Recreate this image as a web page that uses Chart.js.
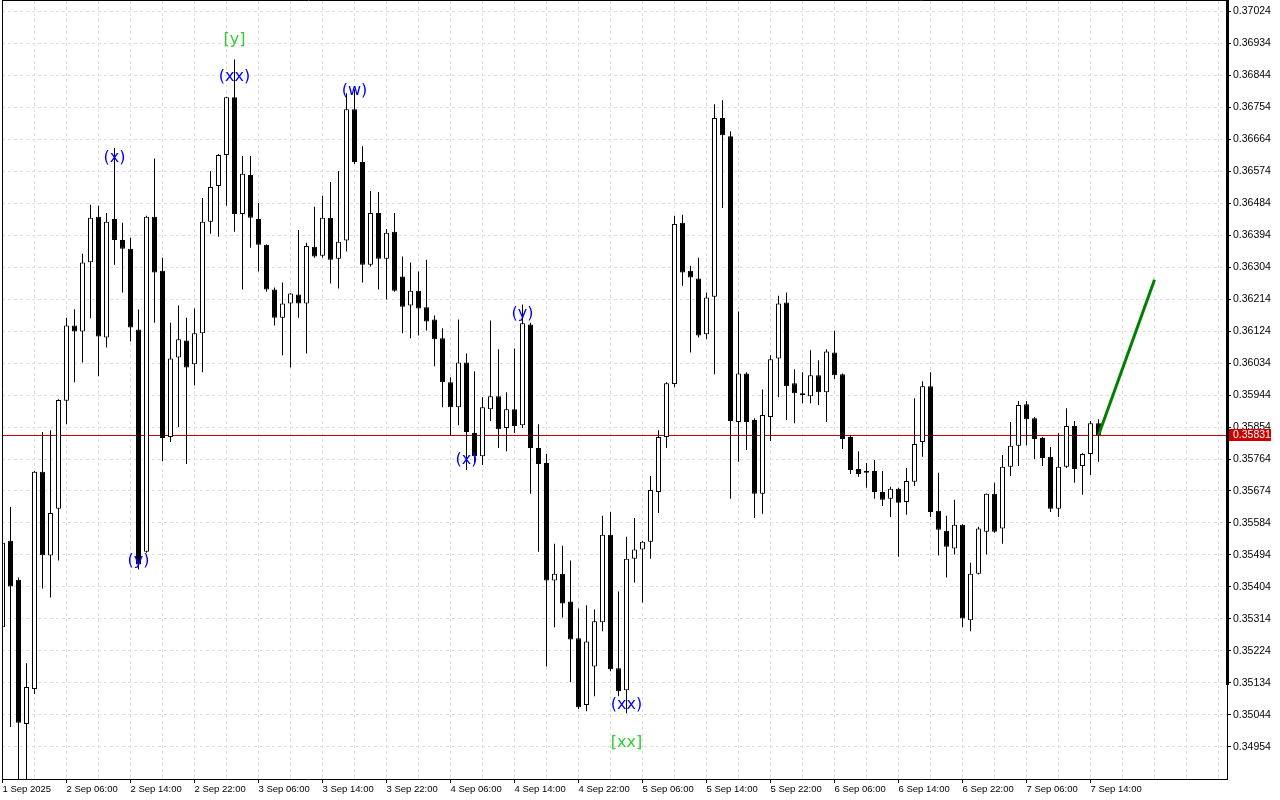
<!DOCTYPE html>
<html>
<head>
<meta charset="utf-8">
<style>
html,body{margin:0;padding:0;background:#fff;}
#wrap{width:1280px;height:800px;position:relative;}
canvas{display:block;}
</style>
<script src="https://cdn.jsdelivr.net/npm/chart.js@4.4.1/dist/chart.umd.min.js"></script>
</head>
<body>
<div id="wrap"><canvas id="c" width="1280" height="800"></canvas></div>
<script>
// Hourly bars, first bar = 1 Sep 2025 22:00
const opens = [
0.35290,0.35534,0.35424,0.35018,0.35116,0.35728,0.35492,0.35624,0.35928,0.36140,
0.36123,0.36318,0.36446,0.36106,0.36440,0.36381,0.36356,0.36129,0.35503,0.36446,
0.36294,0.35826,0.36050,0.36098,0.36031,0.36118,0.36432,0.36533,0.36620,0.36783,
0.36454,0.36564,0.36440,0.36367,0.36241,0.36162,0.36202,0.36227,0.36202,0.36362,
0.36336,0.36443,0.36328,0.36379,0.36749,0.36600,0.36311,0.36457,0.36328,0.36404,
0.36278,0.36196,0.36238,0.36191,0.36157,0.36104,0.35980,0.35910,0.36036,0.35837,
0.35772,0.35904,0.35941,0.35851,0.35904,0.35859,0.36143,0.35795,0.35753,0.35422,
0.35441,0.35363,0.35259,0.35071,0.35180,0.35304,0.35551,0.35175,0.35113,0.35483,
0.35509,0.35531,0.35671,0.35826,0.35975,0.36429,0.36294,0.36272,0.36115,0.36221,
0.36724,0.36673,0.35868,0.36005,0.35874,0.35666,0.35882,0.36047,0.36205,0.35977,
0.35949,0.35941,0.36000,0.35952,0.36064,0.36003,0.35826,0.35736,0.35725,0.35730,
0.35671,0.35652,0.35680,0.35643,0.35700,0.35812,0.35969,0.35618,0.35562,0.35512,
0.35579,0.35310,0.35441,0.35559,0.35666,0.35568,0.35742,0.35801,0.35918,0.35879,
0.35823,0.35770,0.35624,0.35742,0.35857,0.35744,0.35778,0.35865];
const highs = [
0.35551,0.35629,0.35430,0.35189,0.35730,0.35840,0.35845,0.35932,0.36162,0.36186,
0.36342,0.36480,0.36477,0.36457,0.36640,0.36429,0.36387,0.36185,0.36449,0.36610,
0.36331,0.36148,0.36196,0.36162,0.36188,0.36499,0.36575,0.36623,0.36784,0.36889,
0.36617,0.36617,0.36485,0.36368,0.36247,0.36261,0.36231,0.36409,0.36373,0.36474,
0.36505,0.36544,0.36575,0.36794,0.36805,0.36645,0.36519,0.36516,0.36412,0.36457,
0.36334,0.36317,0.36292,0.36325,0.36168,0.36132,0.35994,0.36157,0.36061,0.36011,
0.35938,0.36154,0.36073,0.35952,0.36075,0.36199,0.36148,0.35862,0.35778,0.35525,
0.35520,0.35478,0.35343,0.35352,0.35340,0.35604,0.35615,0.35391,0.35545,0.35598,
0.35534,0.35716,0.35845,0.35980,0.36449,0.36452,0.36308,0.36331,0.36233,0.36763,
0.36774,0.36687,0.36179,0.36008,0.35879,0.35960,0.36056,0.36224,0.36233,0.36017,
0.36008,0.36070,0.36042,0.36073,0.36126,0.36005,0.35831,0.35786,0.35753,0.35761,
0.35730,0.35686,0.35683,0.35739,0.35935,0.35983,0.36008,0.35725,0.35604,0.35649,
0.35580,0.35472,0.35573,0.35667,0.35697,0.35775,0.35868,0.35927,0.35927,0.35882,
0.35826,0.35798,0.35837,0.35907,0.35871,0.35781,0.35871,0.35876];
const lows = [
0.35279,0.35009,0.34835,0.34849,0.35102,0.35399,0.35374,0.35478,0.35862,0.35980,
0.36036,0.36160,0.35997,0.36078,0.36311,0.36233,0.36095,0.35453,0.35500,0.36148,
0.35758,0.35812,0.35854,0.35750,0.35972,0.36008,0.36398,0.36390,0.36477,0.36404,
0.36241,0.36359,0.36292,0.36235,0.36140,0.36056,0.36022,0.36162,0.36061,0.36331,
0.36331,0.36258,0.36244,0.36348,0.36595,0.36261,0.36306,0.36241,0.36213,0.36235,
0.36118,0.36104,0.36112,0.36126,0.36025,0.35910,0.35831,0.35859,0.35733,0.35753,
0.35747,0.35871,0.35795,0.35786,0.35837,0.35851,0.35666,0.35503,0.35180,0.35290,
0.35318,0.35135,0.35060,0.35054,0.35096,0.35279,0.35166,0.35096,0.35048,0.35416,
0.35360,0.35483,0.35612,0.35795,0.35966,0.36252,0.36064,0.36106,0.36101,0.36003,
0.36471,0.35652,0.35756,0.35789,0.35598,0.35610,0.35815,0.35938,0.35874,0.35865,
0.35921,0.35921,0.35916,0.35868,0.35989,0.35792,0.35722,0.35714,0.35683,0.35652,
0.35632,0.35601,0.35489,0.35607,0.35688,0.35770,0.35601,0.35492,0.35430,0.35495,
0.35290,0.35279,0.35439,0.35495,0.35556,0.35525,0.35716,0.35744,0.35803,0.35764,
0.35744,0.35615,0.35601,0.35739,0.35697,0.35663,0.35719,0.35756];
const closes = [
0.35528,0.35405,0.35021,0.35122,0.35728,0.35493,0.35612,0.35930,0.36140,0.36123,
0.36317,0.36443,0.36109,0.36432,0.36381,0.36356,0.36134,0.35467,0.36446,0.36289,
0.35823,0.36047,0.36101,0.36022,0.36118,0.36432,0.36530,0.36620,0.36783,0.36454,
0.36567,0.36443,0.36367,0.36241,0.36162,0.36202,0.36230,0.36202,0.36364,0.36334,
0.36443,0.36325,0.36376,0.36749,0.36600,0.36311,0.36457,0.36328,0.36401,0.36238,
0.36193,0.36238,0.36188,0.36151,0.36101,0.35980,0.35910,0.36036,0.35840,0.35772,
0.35910,0.35941,0.35848,0.35904,0.35857,0.36146,0.35795,0.35750,0.35422,0.35441,
0.35357,0.35256,0.35065,0.35250,0.35307,0.35551,0.35172,0.35110,0.35483,0.35509,
0.35531,0.35677,0.35826,0.35977,0.36426,0.36289,0.36275,0.36112,0.36219,0.36724,
0.36676,0.35871,0.36005,0.35868,0.35666,0.35888,0.36045,0.36202,0.35969,0.35949,
0.35944,0.36000,0.35952,0.36067,0.36000,0.35820,0.35733,0.35722,0.35730,0.35671,
0.35649,0.35680,0.35641,0.35702,0.35806,0.35969,0.35615,0.35565,0.35517,0.35579,
0.35315,0.35441,0.35568,0.35666,0.35559,0.35742,0.35801,0.35916,0.35876,0.35820,
0.35767,0.35624,0.35742,0.35857,0.35736,0.35778,0.35865,0.35831];

const xTickLabels = ["1 Sep 2025","2 Sep 06:00","2 Sep 14:00","2 Sep 22:00","3 Sep 06:00","3 Sep 14:00",
  "3 Sep 22:00","4 Sep 06:00","4 Sep 14:00","4 Sep 22:00","5 Sep 06:00","5 Sep 14:00",
  "5 Sep 22:00","6 Sep 06:00","6 Sep 14:00","6 Sep 22:00","7 Sep 06:00","7 Sep 14:00"];
const barsPerLabel = 8;
const barsPerGrid = 4;
const yTicks = [0.37024,0.36934,0.36844,0.36754,0.36664,0.36574,0.36484,0.36394,0.36304,0.36214,
  0.36124,0.36034,0.35944,0.35854,0.35764,0.35674,0.35584,0.35494,0.35404,0.35314,
  0.35224,0.35134,0.35044,0.34954];
const yMin = 0.348629, yMax = 0.370537;
const xMin = -0.0625, xMax = 153.0625;
const currentPrice = 0.35831;
const projectionIdx = [137, 144];
const projectionPrice = [0.35831, 0.36269];
const waveIdx   = [14, 17, 29, 29, 44, 58, 65, 78, 78];
const wavePrice = [0.36611, 0.35476, 0.36839, 0.36945, 0.36800, 0.35761, 0.36174, 0.35072, 0.34964];
const waveText  = ["(x)", "(y)", "(xx)", "[y]", "(w)", "(x)", "(y)", "(xx)", "[xx]"];
const waveDegree = ["minor","minor","minor","major","minor","minor","minor","minor","major"];

const BLUE = '#0000ff', LIME = '#32cd32';

const bodies = closes.map((c, i) => ({x: i, y: [opens[i], c]}));
const wicks = closes.map((c, i) => ({x: i, y: [lows[i], highs[i]]}));

const overlay = {
  id: 'overlay',
  beforeDatasetsDraw(chart) {
    const {ctx, chartArea: a, scales: {y}} = chart;
    const py = Math.round(y.getPixelForValue(currentPrice)) + 0.5;
    ctx.save();
    ctx.strokeStyle = '#c80000'; ctx.lineWidth = 1;
    ctx.beginPath(); ctx.moveTo(a.left, py); ctx.lineTo(a.right, py); ctx.stroke();
    ctx.restore();
  },
  afterDatasetsDraw(chart) {
    const {ctx, scales: {x, y}} = chart;
    ctx.save();
    ctx.font = '16px "DejaVu Sans"';
    ctx.textAlign = 'center'; ctx.textBaseline = 'middle';
    waveText.forEach((t, k) => {
      ctx.fillStyle = waveDegree[k] === 'major' ? LIME : BLUE;
      ctx.fillText(t, x.getPixelForValue(waveIdx[k]), y.getPixelForValue(wavePrice[k]));
    });
    ctx.restore();
  },
  afterDraw(chart) {
    const {ctx, chartArea: a, scales: {y}} = chart;
    ctx.save();
    ctx.strokeStyle = '#000'; ctx.lineWidth = 1;
    ctx.beginPath();
    ctx.moveTo(a.left + 0.5, 0); ctx.lineTo(a.left + 0.5, a.bottom + 0.5);
    ctx.moveTo(a.left, 0.5); ctx.lineTo(a.right + 1, 0.5);
    ctx.moveTo(a.left, a.bottom + 0.5); ctx.lineTo(a.right + 1, a.bottom + 0.5);
    ctx.moveTo(a.right + 0.5, 0); ctx.lineTo(a.right + 0.5, a.bottom + 0.5);
    ctx.stroke();
    ctx.fillStyle = '#000';
    ctx.fillRect(a.right - 1, 0, 3, 685);
    // current price tag
    const py = Math.round(y.getPixelForValue(currentPrice));
    ctx.fillStyle = '#cc0000';
    ctx.fillRect(a.right + 2, py - 6, 42, 12);
    ctx.fillStyle = '#fff';
    ctx.font = '10.5px "Liberation Sans"';
    ctx.textAlign = 'left'; ctx.textBaseline = 'middle';
    ctx.fillText(currentPrice.toFixed(5), a.right + 6, py + 0.5);
    ctx.restore();
  }
};

new Chart(document.getElementById('c'), {
  type: 'bar',
  data: {
    datasets: [
      {
        type: 'line',
        data: projectionIdx.map((v, k) => ({x: v, y: projectionPrice[k]})),
        borderColor: '#008000', borderWidth: 3, pointRadius: 0, fill: false, order: 0, clip: false
      },
      {
        data: bodies, grouped: false, order: 1,
        barThickness: 5, borderWidth: 1, borderSkipped: false, inflateAmount: 0,
        borderColor: '#000',
        backgroundColor: bodies.map((d, i) => closes[i] >= opens[i] ? '#ffffff' : '#000000')
      },
      {
        data: wicks, grouped: false, order: 2,
        barThickness: 1, borderWidth: 0, inflateAmount: 0,
        backgroundColor: '#000'
      }
    ]
  },
  options: {
    responsive: false,
    animation: false,
    events: [],
    layout: {padding: {left: 2, top: 1, right: 0, bottom: 0}, autoPadding: false},
    plugins: {legend: {display: false}, tooltip: {enabled: false}},
    scales: {
      x: {
        type: 'linear', position: 'bottom', min: xMin, max: xMax, offset: false,
        afterFit(s) { s.height = 21; s.paddingLeft = 0; s.paddingRight = 0; },
        afterBuildTicks(s) {
          const t = [];
          for (let v = 0; v <= xMax; v += barsPerGrid) t.push({value: v});
          s.ticks = t;
        },
        grid: {
          offset: false, color: '#dedede', lineWidth: 1, drawTicks: true, tickLength: 4,
          tickColor: (c) => (c.tick && c.tick.value % barsPerLabel === 0 && c.tick.value / barsPerLabel < xTickLabels.length) ? '#000' : 'rgba(0,0,0,0)',
          tickBorderDash: []
        },
        border: {display: false, dash: [3, 3]},
        ticks: {
          autoSkip: false, maxRotation: 0, minRotation: 0, align: 'start', padding: 1,
          color: '#000', font: {family: 'Liberation Sans', size: 9.5},
          callback: (v) => (v % barsPerLabel === 0 && v / barsPerLabel < xTickLabels.length) ? xTickLabels[v / barsPerLabel] : ''
        }
      },
      y: {
        type: 'linear', position: 'right', min: yMin, max: yMax, beginAtZero: false,
        afterFit(s) { s.width = 53; s.paddingTop = 0; s.paddingBottom = 0; },
        afterBuildTicks(s) { s.ticks = yTicks.map(v => ({value: v})); },
        grid: {color: '#dedede', lineWidth: 1, drawTicks: true, tickLength: 4, tickColor: '#000', tickBorderDash: []},
        border: {display: false, dash: [3, 3]},
        ticks: {
          padding: 2, color: '#000', font: {family: 'Liberation Sans', size: 10.5},
          callback: (v) => Number(v).toFixed(5)
        }
      }
    }
  },
  plugins: [overlay]
});
</script>
</body>
</html>
